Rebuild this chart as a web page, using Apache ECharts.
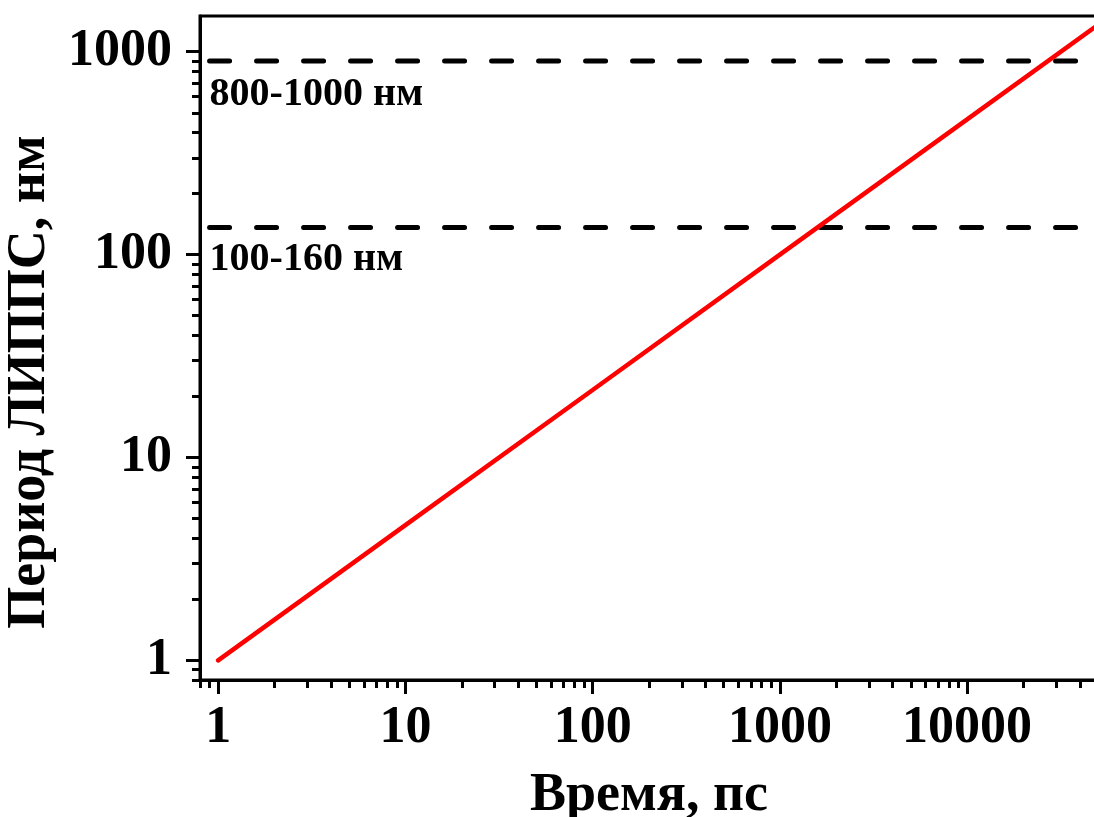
<!DOCTYPE html>
<html>
<head>
<meta charset="utf-8">
<script src="https://cdn.jsdelivr.net/npm/echarts@6/dist/echarts.min.js"></script>
<style>
  html, body { margin: 0; padding: 0; background: #fff; }
  #chart { width: 1094px; height: 817px; }
</style>
</head>
<body>
<div id="chart"></div>
<script>
// LIPSS period vs time (log-log)
const timePs = [1, 10, 100, 1000, 10000, 50000];
const periodNm = [1, 4.64, 21.5, 100, 464, 1357];

// Reference period bands (dashed lines)
const bandLevelsNm = [900, 136];
const bandLabels = ['800-1000 нм', '100-160 нм'];
const bandRangePs = [0.9, 50000];

// Axis ranges and ticks
const xRange = [0.8, 50000];
const yRange = [0.8, 1500];
const xMajorTicks = [1, 10, 100, 1000, 10000];
const yMajorTicks = [1, 10, 100, 1000];
const minorSteps = [2, 3, 4, 5, 6, 7, 8, 9];
const xDecades = [0.1, 1, 10, 100, 1000, 10000];
const yDecades = [0.1, 1, 10, 100, 1000];

function minorTicks(decades, range) {
  const out = [];
  decades.forEach(d => minorSteps.forEach(m => {
    const v = +(d * m).toPrecision(6);
    if (v >= range[0] - 1e-9 && v <= range[1]) out.push(v);
  }));
  return out;
}
const xMinorTicks = minorTicks(xDecades, xRange);
const yMinorTicks = minorTicks(yDecades, yRange);

const FONT = 'Liberation Serif';
const INK = '#000';

const chart = echarts.init(document.getElementById('chart'));

const baseAxis = (range) => ({
  type: 'log',
  logBase: 10,
  min: range[0],
  max: range[1],
  splitLine: { show: false },
  minorSplitLine: { show: false }
});

const option = {
  animation: false,
  backgroundColor: '#fff',
  grid: {
    left: 200, top: 16, width: 898, height: 664,
    outerBoundsMode: 'none',
    containLabel: false,
    show: true, borderColor: INK, borderWidth: 3, backgroundColor: 'transparent'
  },
  xAxis: [
    Object.assign(baseAxis(xRange), {
      position: 'bottom',
      name: 'Время, пс',
      nameLocation: 'middle',
      nameGap: 89,
      nameTextStyle: { fontFamily: FONT, fontWeight: 'bold', fontSize: 54, color: INK },
      axisLine: { show: true, lineStyle: { color: INK, width: 3 } },
      axisTick: { show: true, inside: false, length: 14, lineStyle: { color: INK, width: 3 }, customValues: xMajorTicks },
      axisLabel: { show: true, margin: 23, fontFamily: FONT, fontWeight: 'bold', fontSize: 52, color: INK, customValues: xMajorTicks, formatter: v => String(v) }
    }),
    Object.assign(baseAxis(xRange), {
      position: 'bottom',
      axisLine: { show: false },
      axisTick: { show: true, inside: false, length: 8, lineStyle: { color: INK, width: 3 }, customValues: xMinorTicks },
      axisLabel: { show: false }
    })
  ],
  yAxis: [
    Object.assign(baseAxis(yRange), {
      position: 'left',
      name: 'Период ЛИППС, нм',
      nameLocation: 'middle',
      nameGap: 140,
      nameTextStyle: { fontFamily: FONT, fontWeight: 'bold', fontSize: 54, color: INK, padding: [0, 68, 0, 0] },
      axisLine: { show: true, lineStyle: { color: INK, width: 3 } },
      axisTick: { show: true, inside: false, length: 14, lineStyle: { color: INK, width: 3 }, customValues: yMajorTicks },
      axisLabel: { show: true, margin: 28, fontFamily: FONT, fontWeight: 'bold', fontSize: 52, color: INK, customValues: yMajorTicks, formatter: v => String(v) }
    }),
    Object.assign(baseAxis(yRange), {
      position: 'left',
      axisLine: { show: false },
      axisTick: { show: true, inside: false, length: 8, lineStyle: { color: INK, width: 3 }, customValues: yMinorTicks },
      axisLabel: { show: false }
    })
  ],
  series: [
    ...bandLevelsNm.map((level, i) => ({
      type: 'line',
      xAxisIndex: 0,
      yAxisIndex: 0,
      symbol: 'circle',
      symbolSize: 0,
      showSymbol: true,
      lineStyle: { color: INK, width: 5, type: [20, 27], cap: 'round' },
      itemStyle: { color: INK },
      data: [
        {
          value: [bandRangePs[0], level],
          label: {
            show: true,
            position: 'bottom',
            align: 'left',
            distance: i === 0 ? 14 : 12,
            formatter: bandLabels[i],
            fontFamily: FONT, fontWeight: 'bold', fontSize: 40, color: INK
          }
        },
        [bandRangePs[1], level]
      ],
      z: 2
    })),
    {
      type: 'line',
      xAxisIndex: 0,
      yAxisIndex: 0,
      showSymbol: false,
      lineStyle: { color: '#ff0000', width: 4.5, cap: 'round' },
      data: timePs.map((t, i) => [t, periodNm[i]]),
      z: 3
    }
  ]
};

chart.setOption(option);
</script>
</body>
</html>
